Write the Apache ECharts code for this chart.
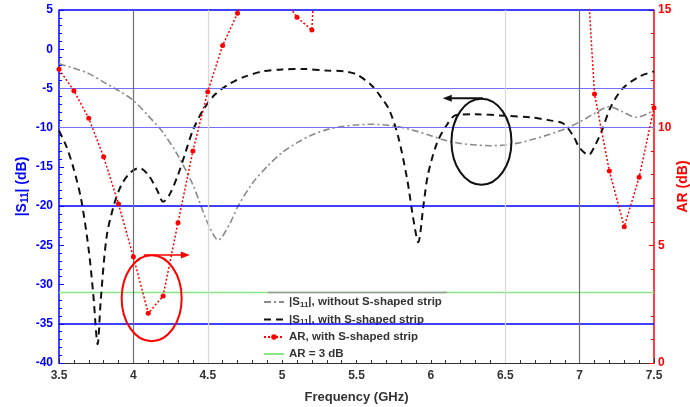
<!DOCTYPE html>
<html>
<head>
<meta charset="utf-8">
<script src="https://cdn.jsdelivr.net/npm/echarts@6.0.0/dist/echarts.min.js"></script>
<style>html,body{margin:0;padding:0;background:#fff}#c{width:690px;height:407px}</style>
</head>
<body>
<div id="c"></div>
<script>
// ---- data ----
const xTicks = [3.5, 4, 4.5, 5, 5.5, 6, 6.5, 7, 7.5];
const freqGray = [3.5,3.6,3.7,3.8,3.9,4.0,4.1,4.2,4.3,4.4,4.5,4.57,4.65,4.7,4.8,4.9,5.0,5.1,5.2,5.3,5.4,5.5,5.6,5.7,5.8,5.9,6.0,6.1,6.2,6.3,6.4,6.5,6.6,6.7,6.8,6.9,7.0,7.1,7.2,7.28,7.38,7.45,7.5];
const s11Gray  = [-1.84,-2.43,-3.11,-4.19,-5.26,-6.53,-8.49,-10.64,-13.57,-17.28,-22.17,-24.32,-22.17,-20.12,-17.09,-14.94,-13.18,-11.91,-10.93,-10.25,-9.86,-9.66,-9.56,-9.66,-9.95,-10.44,-11.03,-11.62,-12.01,-12.2,-12.3,-12.2,-11.91,-11.42,-10.83,-10.15,-9.27,-8.19,-7.32,-7.9,-8.68,-8.29,-7.71];
const freqDash = [3.5,3.55,3.6,3.65,3.7,3.73,3.76,3.78,3.82,3.87,3.92,3.98,4.04,4.1,4.16,4.2,4.24,4.3,4.35,4.4,4.47,4.55,4.65,4.75,4.87,5.0,5.15,5.3,5.42,5.5,5.6,5.67,5.72,5.78,5.84,5.88,5.915,5.95,5.98,6.04,6.1,6.17,6.3,6.5,6.67,6.8,6.89,6.96,7.0,7.06,7.1,7.15,7.21,7.29,7.4,7.5];
const s11Dash  = [-10.4,-12.4,-15.33,-19.24,-25.6,-31.17,-37.6,-32.15,-23.93,-19.82,-17.28,-15.72,-15.13,-16.02,-17.98,-19.44,-18.66,-16.02,-13.18,-10.35,-7.71,-5.75,-4.38,-3.5,-2.82,-2.57,-2.53,-2.72,-2.82,-3.21,-4.58,-6.24,-7.71,-11.13,-16.5,-21.39,-24.61,-19.92,-16.02,-12.01,-9.86,-8.39,-8.29,-8.49,-8.68,-9.07,-9.47,-11.13,-12.59,-13.47,-12.4,-10.35,-7.32,-4.99,-3.5,-2.82];
const freqAR = [3.5,3.6,3.7,3.8,3.9,4.0,4.1,4.2,4.3,4.4,4.5,4.6,4.7,4.8,4.9,5.0,5.1,5.2,5.3,7.0,7.1,7.2,7.3,7.4,7.5];
const arVals = [12.48,11.57,10.4,8.76,6.76,4.51,2.11,2.85,5.96,9.01,11.53,13.49,14.86,16.3,16.8,15.6,14.69,14.15,27,22,11.43,8.16,5.79,7.89,10.85];
const ar3Freq = [3.5, 7.5];
const ar3Vals = [3, 3];
const hLinesStrong = [5, -20, -35];
const hLinesLight = [-5, -10];
const vLinesDark = [4, 7];
const vLinesLight = [4.5, 6.5];

const names = ['S11_without', 'S11_with', 'AR, with S-shaped strip', 'AR = 3 dB'];
const FONT = 'Liberation Sans, Arial, sans-serif';
const zip = (a, b) => a.map((v, i) => [v, b[i]]);

const chart = echarts.init(document.getElementById('c'));
const refLines = [];
hLinesStrong.forEach(v => refLines.push({yAxis: v, lineStyle: {color: '#0000ff', width: 1.5, type: 'solid'}}));
hLinesLight.forEach(v => refLines.push({yAxis: v, lineStyle: {color: '#7070ff', width: 1.2, type: 'solid'}}));
vLinesDark.forEach(v => refLines.push({xAxis: v, lineStyle: {color: '#707070', width: 1.2, type: 'solid'}}));
vLinesLight.forEach(v => refLines.push({xAxis: v, lineStyle: {color: '#d8d8d8', width: 1.2, type: 'solid'}}));

const hidden = {opacity: 0, borderWidth: 0};
chart.setOption({
  animation: false,
  backgroundColor: '#fff',
  grid: {left: 59, right: 36, top: 10, bottom: 44, outerBoundsMode: 'none', containLabel: false},
  legend: {
    orient: 'vertical', left: 261, top: 294,
    data: [{name: names[0], itemStyle: hidden}, {name: names[1], itemStyle: hidden}, {name: names[2]}, {name: names[3], itemStyle: hidden}],
    itemWidth: 20, itemHeight: 7, itemGap: 5,
    backgroundColor: '#fff', padding: [2, 4, 0, 2],
    textStyle: {fontFamily: FONT, fontSize: 11.5, fontWeight: 'bold', color: '#333',
      rich: {t: {fontFamily: FONT, fontSize: 11.5, fontWeight: 'bold', color: '#333'},
             s: {fontFamily: FONT, fontSize: 8, fontWeight: 'bold', color: '#333', verticalAlign: 'bottom', padding: [5, 0, 0, 0]}}},
    formatter: function (n) {
      if (n === 'S11_without') return '{t||S}{s|11}{t||, without S-shaped strip}';
      if (n === 'S11_with') return '{t||S}{s|11}{t||, with S-shaped strip}';
      return '{t|' + n + '}';
    }
  },
  xAxis: {
    type: 'value', min: 3.5, max: 7.5, interval: 0.5,
    name: 'Frequency (GHz)', nameLocation: 'middle', nameGap: 28, nameMoveOverlap: false,
    nameTextStyle: {fontFamily: FONT, fontSize: 13, fontWeight: 'bold', color: '#333'},
    axisLine: {onZero: false, lineStyle: {color: '#333', width: 1}},
    axisTick: {inside: true, length: 5, lineStyle: {color: '#333'}},
    minorTick: {show: true, splitNumber: 5, length: 3, lineStyle: {color: '#333'}},
    splitLine: {show: false},
    axisLabel: {fontFamily: FONT, fontSize: 12, fontWeight: 'bold', color: '#333', margin: 7,
      formatter: v => String(v)}
  },
  yAxis: [{
    type: 'value', min: -40, max: 5, interval: 5, position: 'left',
    name: '{a||S}{b|11}{a|| (dB)}', nameLocation: 'middle', nameGap: 29, nameMoveOverlap: false,
    nameTextStyle: {fontFamily: FONT, fontSize: 14, fontWeight: 'bold', color: '#0000ff',
      rich: {a: {fontFamily: FONT, fontSize: 14, fontWeight: 'bold', color: '#0000ff'},
             b: {fontFamily: FONT, fontSize: 10, fontWeight: 'bold', color: '#0000ff', verticalAlign: 'bottom', padding: [6, 0, 0, 0]}}},
    axisLine: {show: true, onZero: false, lineStyle: {color: '#0000ff', width: 1.5}},
    axisTick: {inside: true, length: 5, lineStyle: {color: '#0000ff'}},
    minorTick: {show: true, splitNumber: 5, length: 3, lineStyle: {color: '#0000ff'}},
    splitLine: {show: false},
    axisLabel: {fontFamily: FONT, fontSize: 12, fontWeight: 'bold', color: '#0000ff', margin: 6}
  }, {
    type: 'value', min: 0, max: 15, interval: 5, position: 'right',
    name: 'AR (dB)', nameLocation: 'middle', nameGap: 22, nameRotate: 90, nameMoveOverlap: false,
    nameTextStyle: {fontFamily: FONT, fontSize: 14, fontWeight: 'bold', color: '#ff0000'},
    axisLine: {show: true, onZero: false, lineStyle: {color: '#ff0000', width: 1.5}},
    axisTick: {inside: true, length: 5, lineStyle: {color: '#ff0000'}},
    minorTick: {show: true, splitNumber: 5, length: 3, lineStyle: {color: '#ff0000'}},
    splitLine: {show: false},
    axisLabel: {fontFamily: FONT, fontSize: 12, fontWeight: 'bold', color: '#ff0000', margin: 4}
  }],
  series: [
    {name: 'refs', type: 'line', yAxisIndex: 0, data: [], z: 1, silent: true,
     markLine: {silent: true, symbol: 'none', label: {show: false}, animation: false, data: refLines}},
    {name: names[3], type: 'line', yAxisIndex: 1, data: zip(ar3Freq, ar3Vals), symbol: 'none', z: 2,
     lineStyle: {color: '#88e888', width: 1.5}, itemStyle: {color: '#33cc33'}},
    {name: names[0], type: 'line', yAxisIndex: 0, data: zip(freqGray, s11Gray), symbol: 'none', smooth: 0.3, z: 3,
     lineStyle: {color: '#8a8a8a', width: 1.6, type: [7, 3, 2, 3]}, itemStyle: {color: '#8a8a8a'}},
    {name: names[1], type: 'line', yAxisIndex: 0, data: zip(freqDash, s11Dash), symbol: 'none', smooth: 0.3, z: 4,
     lineStyle: {color: '#111', width: 2, type: [7, 5]}, itemStyle: {color: '#111'}},
    {name: names[2], type: 'line', yAxisIndex: 1, data: zip(freqAR, arVals), symbol: 'circle', symbolSize: 5, z: 5,
     clip: true,
     lineStyle: {color: '#ff0000', width: 1.5, type: [2, 2]}, itemStyle: {color: '#ff0000'}}
  ]
});

// annotations placed from data coordinates
function px(f, s) { return chart.convertToPixel({xAxisIndex: 0, yAxisIndex: 0}, [f, s]); }
const bc = px(6.34, -11.8), ba1 = px(6.35, -6.26), ba2 = px(6.08, -6.26);
const rc = px(4.123, -31.75), ra1 = px(4.07, -26.23), ra2 = px(4.38, -26.23);
const lg1 = px(4.905, -31), lg2 = px(6.108, -31);
chart.setOption({
  graphic: [
    {type: 'line', shape: {x1: lg1[0], y1: lg1[1], x2: lg2[0], y2: lg2[1]}, style: {stroke: '#999', lineWidth: 1.5}, z: 100},
    {type: 'ellipse', shape: {cx: bc[0], cy: bc[1], rx: 30, ry: 43}, style: {fill: 'none', stroke: '#111', lineWidth: 2}, z: 100},
    {type: 'line', shape: {x1: ba1[0], y1: ba1[1], x2: ba2[0] + 6, y2: ba2[1]}, style: {stroke: '#111', lineWidth: 2}, z: 100},
    {type: 'polygon', shape: {points: [[ba2[0], ba2[1]], [ba2[0] + 9, ba2[1] - 3.5], [ba2[0] + 9, ba2[1] + 3.5]]}, style: {fill: '#111'}, z: 100},
    {type: 'ellipse', shape: {cx: rc[0], cy: rc[1], rx: 30, ry: 43}, style: {fill: 'none', stroke: '#ff0000', lineWidth: 2}, z: 100},
    {type: 'line', shape: {x1: ra1[0], y1: ra1[1], x2: ra2[0] - 6, y2: ra2[1]}, style: {stroke: '#ff0000', lineWidth: 1.5}, z: 100},
    {type: 'polygon', shape: {points: [[ra2[0], ra2[1]], [ra2[0] - 9, ra2[1] - 3.5], [ra2[0] - 9, ra2[1] + 3.5]]}, style: {fill: '#ff0000'}, z: 100}
  ]
});
</script>
</body>
</html>
